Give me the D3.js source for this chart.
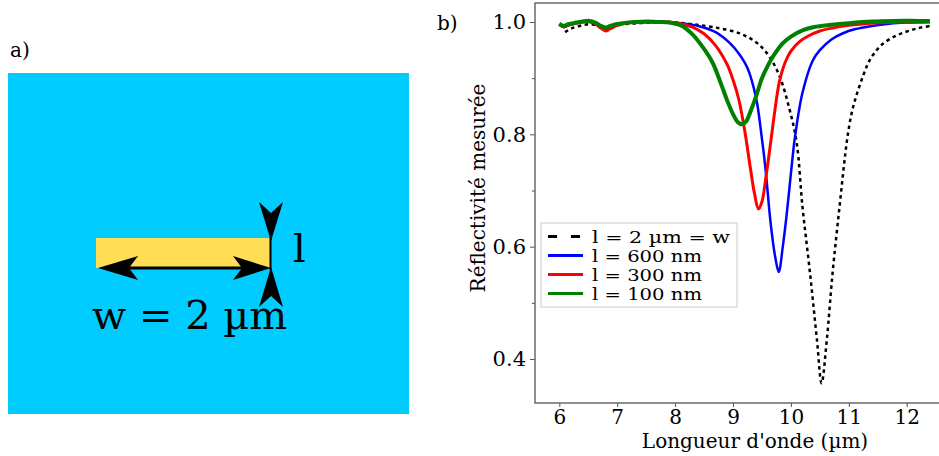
<!DOCTYPE html>
<html><head><meta charset="utf-8">
<script src="https://cdn.jsdelivr.net/npm/d3@7"></script>
<style>body{margin:0;background:#fff}svg{display:block}text{font-family:"DejaVu Serif",serif}</style>
</head><body><svg id="c" width="939" height="456"></svg>
<script>
// ---- data ----
const lambda100 = [6.0,6.08,6.15,6.25,6.4,6.52,6.62,6.72,6.8,6.88,6.98,7.1,7.3,7.5,7.7,7.9,8.1,8.3,8.5,8.65,8.8,8.9,9.0,9.08,9.15,9.22,9.3,9.4,9.5,9.6,9.7,9.85,10.0,10.2,10.4,10.7,11.0,11.4,11.8,12.2,12.4];
const refl100   = [.997,.993,.996,.998,1.001,1.002,.999,.993,.990,.993,.996,.998,1.0,1.001,1.0,.999,.994,.978,.952,.927,.888,.860,.836,.822,.818,.822,.840,.868,.900,.922,.940,.961,.974,.985,.991,.995,.998,1.001,1.002,1.002,1.002];
const lambda300 = [6.0,6.08,6.15,6.25,6.4,6.52,6.62,6.72,6.8,6.88,6.98,7.1,7.3,7.5,7.7,7.9,8.1,8.3,8.5,8.7,8.9,9.0,9.1,9.2,9.3,9.37,9.44,9.5,9.57,9.65,9.72,9.8,9.9,10.0,10.15,10.3,10.5,10.7,11.0,11.3,11.7,12.1,12.4];
const refl300   = [.995,.991,.994,.997,1.0,1.001,.997,.989,.984,.988,.993,.997,1.0,1.0,1.0,1.0,.997,.991,.979,.958,.924,.897,.862,.808,.740,.695,.667,.680,.725,.785,.840,.893,.928,.948,.965,.975,.984,.989,.994,.997,.999,1.0,1.0];
const lambda600 = [6.0,6.08,6.15,6.25,6.4,6.52,6.62,6.72,6.8,6.88,6.98,7.1,7.3,7.5,7.7,7.9,8.1,8.4,8.7,8.95,9.1,9.25,9.4,9.49,9.56,9.65,9.73,9.79,9.86,9.93,9.98,10.03,10.07,10.2,10.38,10.5,10.7,10.9,11.1,11.4,11.7,12.0,12.4];
const refl600   = [.996,.991,.994,.997,1.0,1.0,.997,.990,.986,.990,.994,.997,1.0,1.0,1.0,1.0,.998,.993,.982,.962,.944,.918,.864,.800,.740,.642,.581,.555,.600,.660,.710,.760,.795,.874,.932,.950,.969,.980,.987,.993,.997,.999,1.0];
const lambda2000 = [6.1,6.2,6.35,6.52,6.65,6.78,6.9,7.1,7.4,7.7,8.0,8.3,8.65,9.11,9.41,9.63,9.81,9.98,10.1,10.2,10.33,10.45,10.53,10.62,10.72,10.84,10.97,11.05,11.14,11.25,11.35,11.48,11.6,11.8,12.0,12.2,12.4];
const refl2000   = [.982,.988,.993,.996,.994,.989,.993,.996,.998,.999,.999,.996,.991,.980,.963,.938,.902,.843,.785,.671,.553,.434,.357,.434,.553,.671,.790,.838,.872,.905,.930,.950,.962,.975,.983,.989,.993];
const seriesNames = ["l = 2 µm = w","l = 600 nm","l = 300 nm","l = 100 nm"];
const xTicks = [6,7,8,9,10,11,12];
const yTicks = [0.4,0.6,0.8,1.0];
const yMinor = [0.5,0.7,0.9];

const svg = d3.select("#c");

// ---- panel a ----
svg.append("text").attr("x",10).attr("y",57).attr("font-size",20).text("a)");
svg.append("rect").attr("x",8).attr("y",73).attr("width",401).attr("height",341).attr("fill","#00CCFF");
svg.append("rect").attr("x",96).attr("y",238).attr("width",174).attr("height",30).attr("fill","#FFDD55");
const ga = svg.append("g").attr("fill","#000").attr("stroke","#000");
ga.append("line").attr("x1",110).attr("x2",260).attr("y1",268).attr("y2",268).attr("stroke-width",3);
ga.append("line").attr("x1",270.5).attr("x2",270.5).attr("y1",236).attr("y2",270).attr("stroke-width",2);
ga.append("path").attr("stroke","none").attr("d","M98,268 L138,256 L129,268 L138,280 Z");
ga.append("path").attr("stroke","none").attr("d","M271,268 L233,256 L242,268 L233,280 Z");
ga.append("path").attr("stroke","none").attr("d","M271,241 L259,202 L271,213 L283,202 Z");
ga.append("path").attr("stroke","none").attr("d","M271,267 L259,307 L271,296 L283,307 Z");
svg.append("text").attr("x",293).attr("y",262).attr("font-size",40).text("l");
svg.append("text").attr("x",92).attr("y",329).attr("font-size",40).text("w = 2 µm");

// ---- panel b ----
svg.append("text").attr("x",437).attr("y",30).attr("font-size",20).text("b)");
const L = 535, R = 941, T = 3, B = 403;
const x = d3.scaleLinear().domain([6,12]).range([559.3,906.7]);
const y = d3.scaleLinear().domain([0.4,1.0]).range([359,22]);

const line = d3.line().x(d=>x(d[0])).y(d=>y(d[1])).curve(d3.curveCatmullRom.alpha(0.5));
const pairs = (a,b)=>a.map((v,i)=>[v,b[i]]);
const g = svg.append("g");
g.append("path").datum(pairs(lambda2000,refl2000)).attr("d",line).attr("fill","none").attr("stroke","#000").attr("stroke-width",2.5).attr("stroke-dasharray","3.5,3.5");
g.append("path").datum(pairs(lambda600,refl600)).attr("d",line).attr("fill","none").attr("stroke","#0000FF").attr("stroke-width",2.5);
g.append("path").datum(pairs(lambda300,refl300)).attr("d",line).attr("fill","none").attr("stroke","#FF0000").attr("stroke-width",3);
g.append("path").datum(pairs(lambda100,refl100)).attr("d",line).attr("fill","none").attr("stroke","#008000").attr("stroke-width",4);

// spines
svg.append("rect").attr("x",L).attr("y",T).attr("width",R-L).attr("height",B-T).attr("fill","none").attr("stroke","#555").attr("stroke-width",1.3);

// axes
const xa = svg.append("g").attr("transform",`translate(0,${B})`).call(d3.axisBottom(x).tickValues(xTicks).tickFormat(d3.format("d")).tickSize(4).tickPadding(3));
xa.select(".domain").remove();
xa.selectAll("text").attr("font-size",20).attr("font-family","DejaVu Serif").attr("fill","#000");
xa.selectAll("line").attr("stroke","#555");
const ya = svg.append("g").attr("transform",`translate(${L},0)`).call(d3.axisLeft(y).tickValues(yTicks).tickFormat(d3.format(".1f")).tickSize(5).tickPadding(4));
ya.select(".domain").remove();
ya.selectAll("text").attr("font-size",21).attr("font-family","DejaVu Serif").attr("fill","#000");
ya.selectAll("line").attr("stroke","#555");
const ym = svg.append("g").attr("transform",`translate(${L},0)`).call(d3.axisLeft(y).tickValues(yMinor).tickFormat("").tickSize(3));
ym.select(".domain").remove(); ym.selectAll("line").attr("stroke","#555");

svg.append("text").attr("x",755).attr("y",448).attr("text-anchor","middle").attr("font-size",20).text("Longueur d'onde (µm)");
svg.append("text").attr("transform","translate(485,188) rotate(-90)").attr("text-anchor","middle").attr("font-size",20).text("Réflectivité mesurée");

// legend
const lg = svg.append("g");
lg.append("rect").attr("x",541).attr("y",223).attr("width",196).attr("height",84).attr("fill","#fff").attr("fill-opacity",0.85).attr("stroke","#ccc").attr("stroke-width",1);
const lstyle = [
  {c:"#000",w:3,d:"9,14"},{c:"#0000FF",w:3,d:null},{c:"#FF0000",w:3,d:null},{c:"#008000",w:3,d:null}];
const lw = [138,110,110,110];
seriesNames.forEach((n,i)=>{
  const yy = 236.5 + i*19;
  const l = lg.append("line").attr("x1",548).attr("x2",583).attr("y1",yy).attr("y2",yy).attr("stroke",lstyle[i].c).attr("stroke-width",lstyle[i].w);
  if(lstyle[i].d) l.attr("stroke-dasharray",lstyle[i].d);
  lg.append("text").attr("x",592).attr("y",yy+6.5).attr("font-size",17).attr("textLength",lw[i]).attr("lengthAdjust","spacingAndGlyphs").text(n);
});
</script></body></html>
